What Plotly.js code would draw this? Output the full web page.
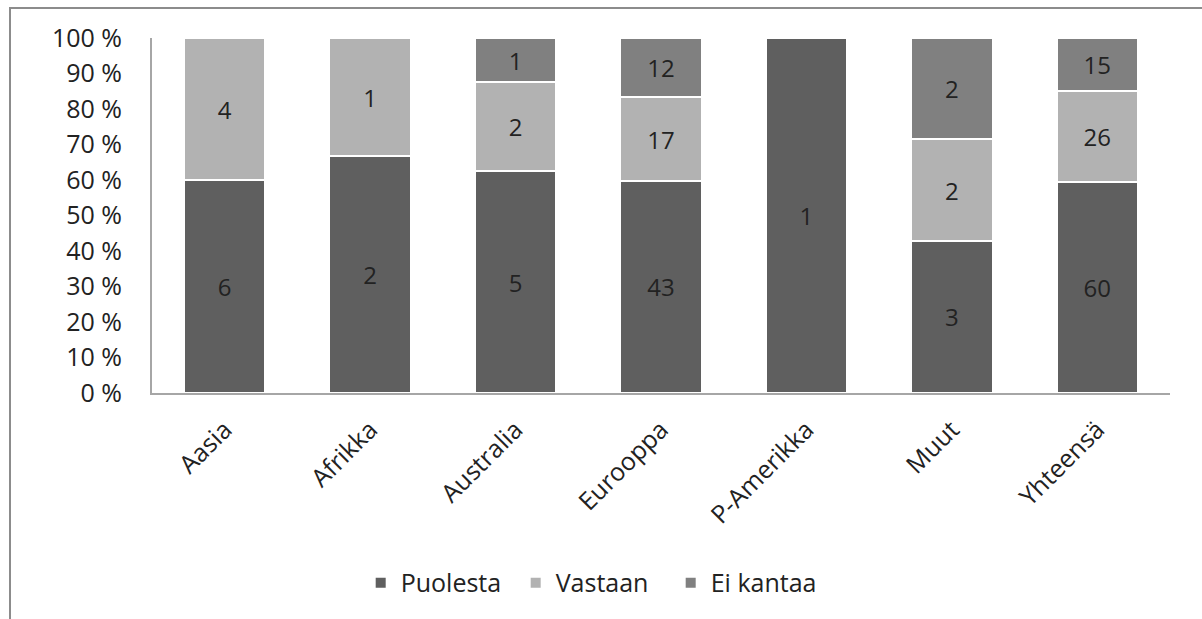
<!DOCTYPE html>
<html>
<head>
<meta charset="utf-8">
<script src="https://cdn.plot.ly/plotly-3.0.1.min.js"></script>
<style>
  body { margin: 0; background: #fff; }
  #wrap { position: relative; width: 1202px; height: 619px; }
  #chart { width: 1202px; height: 619px; }
  #frame { position: absolute; left: 9px; top: 7px; right: -5px; bottom: -5px;
           border-top: 2px solid #8c8c8c; border-left: 2px solid #8c8c8c; pointer-events: none; }
</style>
</head>
<body>
<div id="wrap">
  <div id="chart"></div>
  <div id="frame"></div>
</div>
<script>
const categories = ['Aasia', 'Afrikka', 'Australia', 'Eurooppa', 'P-Amerikka', 'Muut', 'Yhteensä'];
const puolesta  = [6, 2, 5, 43, 1, 3, 60];
const vastaan   = [4, 1, 2, 17, 0, 2, 26];
const eiKantaa  = [0, 0, 1, 12, 0, 2, 15];
const seriesNames = ['Puolesta', 'Vastaan', 'Ei kantaa'];
const seriesColors = ['#5f5f5f', '#b2b2b2', '#808080'];
const yTicks = [0, 10, 20, 30, 40, 50, 60, 70, 80, 90, 100];

const font = '"Open Sans", "DejaVu Sans", sans-serif';
const fs = 25;
function mk(vals, i) {
  return {
    type: 'bar', x: categories, y: vals, name: seriesNames[i],
    marker: { color: seriesColors[i], line: { color: '#ffffff', width: 2 } },
    text: vals.map(v => v === 0 ? '' : String(v)),
    textposition: 'inside', insidetextanchor: 'middle', textangle: 0,
    constraintext: 'none',
    textfont: { family: font, size: 24, color: '#222222' },
    hoverinfo: 'skip'
  };
}
const data = [mk(puolesta, 0), mk(vastaan, 1), mk(eiKantaa, 2)];
const layout = {
  width: 1202, height: 619,
  margin: { l: 152, r: 32, t: 38, b: 226 },
  barmode: 'stack', barnorm: 'percent', bargap: 0.44,
  paper_bgcolor: '#ffffff', plot_bgcolor: '#ffffff',
  font: { family: font, size: fs, color: '#222222' },
  xaxis: {
    tickangle: -45, showline: true, linecolor: '#a6a6a6', linewidth: 2,
    ticks: '', ticklabelstandoff: 10, tickfont: { family: font, size: fs, color: '#222222' }, fixedrange: true
  },
  yaxis: {
    range: [0, 100], tickvals: yTicks, ticktext: yTicks.map(v => v + ' %'),
    showgrid: false, zeroline: false, showline: true, linecolor: '#a6a6a6', linewidth: 2,
    ticks: '', ticklabelstandoff: 23, tickfont: { family: font, size: fs, color: '#222222' }, fixedrange: true
  },
  showlegend: true,
  legend: {
    orientation: 'h', x: 0.205, xanchor: 'left', y: -0.535, yanchor: 'middle',
    entrywidth: 110, entrywidthmode: 'pixels', itemwidth: 30,
    font: { family: font, size: fs, color: '#222222' }, traceorder: 'normal'
  }
};
Plotly.newPlot('chart', data, layout, { staticPlot: true });
</script>
</body>
</html>
